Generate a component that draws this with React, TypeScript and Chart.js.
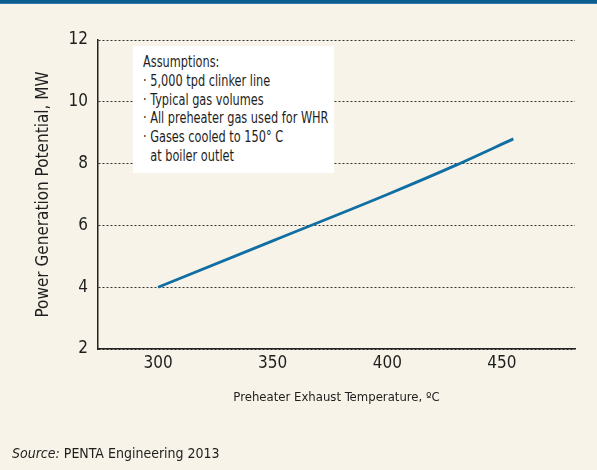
import React, { useEffect, useRef } from "react";
import { Chart, registerables } from "chart.js";

Chart.register(...registerables);

const temperatures = [300, 350, 400, 430, 455];
const powerMW = [4.0, 5.5, 7.0, 7.95, 8.8];
const xTickValues = [300, 350, 400, 450];
const yTickValues = [2, 4, 6, 8, 10, 12];
const assumptionLines = [
  "Assumptions:",
  "· 5,000 tpd clinker line",
  "· Typical gas volumes",
  "· All preheater gas used for WHR",
  "· Gases cooled to 150° C",
  "\u00a0\u00a0at boiler outlet",
];
const xTitle = "Preheater Exhaust Temperature, ºC";
const yTitle = "Power Generation Potential, MW";
const sourceLabel = "Source:";
const sourceText = " PENTA Engineering 2013";

const FONT = "'Liberation Sans Narrow', 'DejaVu Sans Condensed', 'Roboto Condensed', sans-serif";
const BG = "#f7f3e8";
const TEXT = "#1e1e1e";

export default function App() {
  const canvasRef = useRef<HTMLCanvasElement | null>(null);

  useEffect(() => {
    document.body.style.margin = "0";
    const canvas = canvasRef.current;
    if (!canvas) return;
    const chart = new Chart(canvas, {
      type: "line",
      data: {
        datasets: [
          {
            data: temperatures.map((t, i) => ({ x: t, y: powerMW[i] })),
            borderColor: "#0f6ea3",
            borderWidth: 2.8,
            pointRadius: 0,
            cubicInterpolationMode: "monotone",
            fill: false,
          },
        ],
      },
      options: {
        responsive: false,
        animation: false,
        devicePixelRatio: 1,
        layout: { padding: { top: 40, right: 22, bottom: 61, left: 0 } },
        plugins: { legend: { display: false }, tooltip: { enabled: false } },
        scales: {
          x: {
            type: "linear",
            min: 273.8,
            max: 481.9,
            afterBuildTicks: (s: any) => {
              s.ticks = xTickValues.map((v) => ({ value: v }));
            },
            afterFit: (s: any) => {
              s.height = 60;
            },
            grid: { display: false, drawTicks: false },
            border: { display: true, color: "#222", width: 1.5 },
            ticks: {
              color: TEXT,
              font: { family: FONT, size: 17 },
              padding: 4,
              maxRotation: 0,
            },
            title: {
              display: true,
              text: xTitle,
              color: TEXT,
              font: { family: FONT, size: 13 },
              padding: { top: 0, bottom: 4 },
            },
          },
          y: {
            type: "linear",
            min: 2,
            max: 12,
            afterBuildTicks: (s: any) => {
              s.ticks = yTickValues.map((v) => ({ value: v }));
            },
            afterFit: (s: any) => {
              s.width = 98;
            },
            grid: { display: true, drawTicks: false, color: "#333", lineWidth: 1 },
            border: { display: true, color: "#222", width: 1.5, dash: [2, 2] },
            ticks: {
              color: TEXT,
              font: { family: FONT, size: 17 },
              padding: 10,
            },
            title: {
              display: true,
              text: yTitle,
              color: TEXT,
              font: { family: FONT, size: 17 },
              padding: { top: 33, bottom: 0 },
            },
          },
        },
      },
    });
    return () => chart.destroy();
  }, []);

  return (
    <div
      style={{
        position: "relative",
        width: 597,
        height: 470,
        background: BG,
        overflow: "hidden",
        fontFamily: FONT,
        color: TEXT,
      }}
    >
      <div
        style={{
          position: "absolute",
          left: 0,
          top: 0,
          width: 597,
          height: 4,
          background: "linear-gradient(#0b5e8d, #0b5e8d 70%, #4f8fb8)",
        }}
      />
      <canvas ref={canvasRef} width={597} height={470} style={{ display: "block" }} />
      <div
        style={{
          position: "absolute",
          left: 133,
          top: 46,
          width: 201,
          height: 127,
          background: "#ffffff",
          boxSizing: "border-box",
          padding: "7px 0 0 10px",
        }}
      >
        <div
          style={{
            fontSize: 15,
            lineHeight: "18.8px",
            whiteSpace: "pre",
            transform: "scaleX(0.84)",
            transformOrigin: "left top",
          }}
        >
          {assumptionLines.map((l, i) => (
            <div key={i}>{l}</div>
          ))}
        </div>
      </div>
      <div
        style={{
          position: "absolute",
          left: 12,
          top: 444,
          fontSize: 14,
          lineHeight: "18px",
          whiteSpace: "pre",
        }}
      >
        <span style={{ fontStyle: "italic" }}>{sourceLabel}</span>
        {sourceText}
      </div>
    </div>
  );
}
